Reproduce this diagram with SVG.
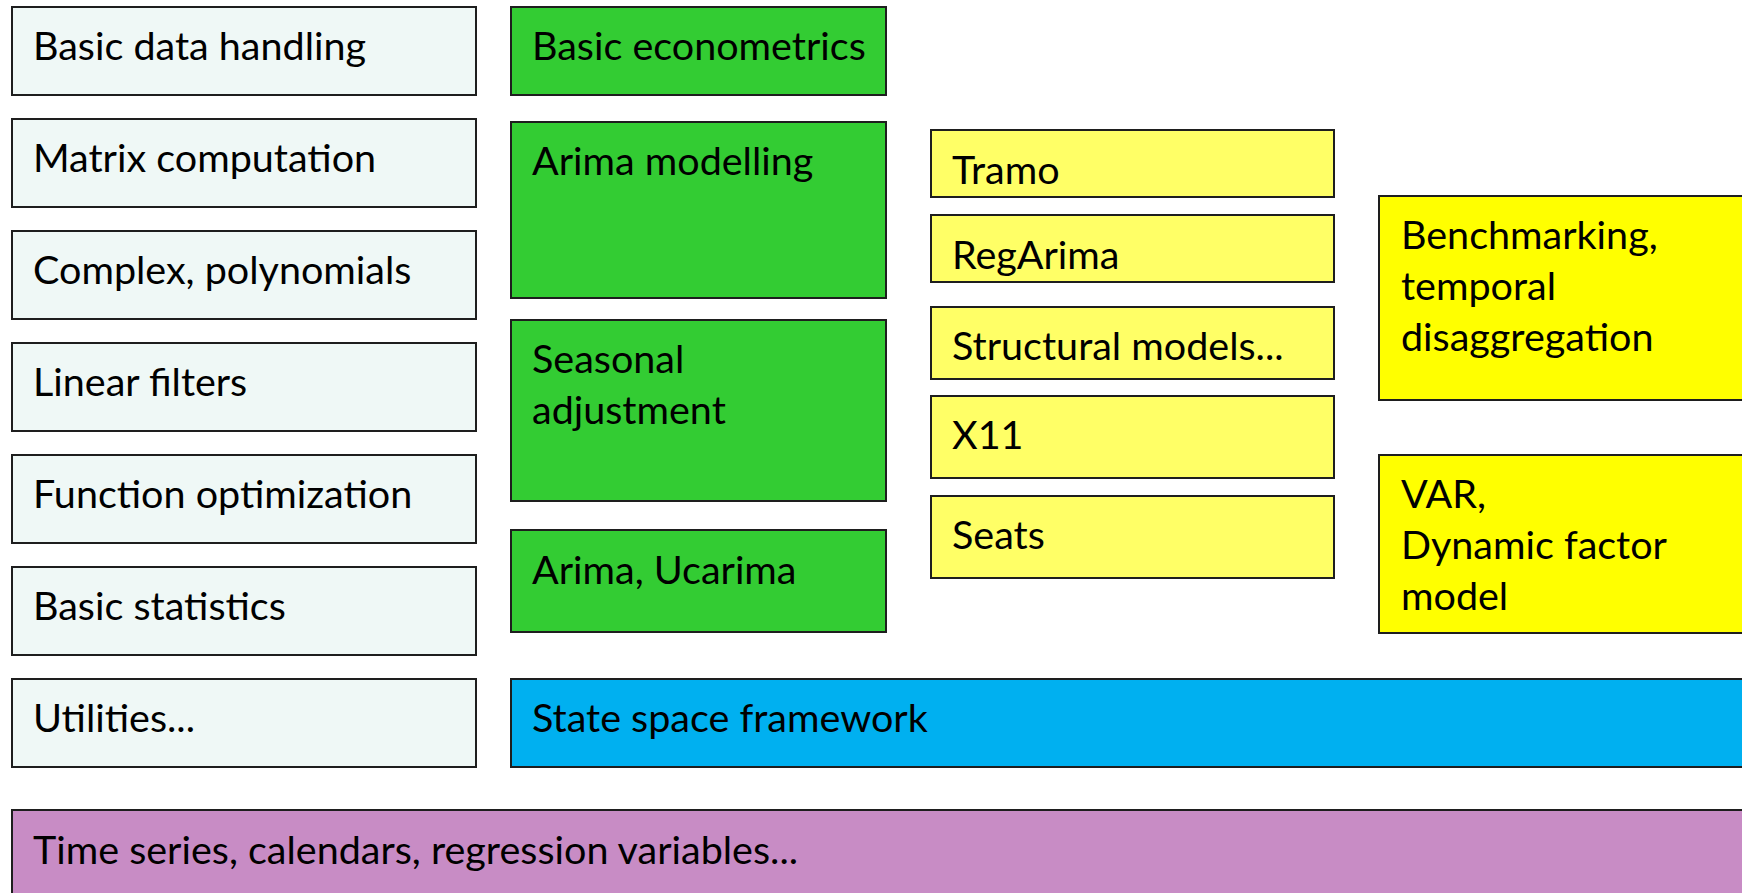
<svg xmlns="http://www.w3.org/2000/svg" width="1742" height="893" viewBox="0 0 1742 893">
<style>
rect{stroke:#1e1e1e;stroke-width:2}
.l{fill:#EFF8F6}.g{fill:#33CC33}.y{fill:#FFFF66}.Y{fill:#FFFF00}.b{fill:#00B0F0}.p{fill:#C88CC5}
text{font-family:Lato,"Liberation Sans",sans-serif;font-size:39.5px;fill:#000}
</style>
<rect x="0" y="0" width="1742" height="893" fill="#fff" style="stroke:none"/>
<g id="n-basic-data"><rect class="l" x="12" y="7" width="464" height="88"/><text x="33" y="60">Basic data handling</text></g>
<g id="n-matrix"><rect class="l" x="12" y="119" width="464" height="88"/><text x="33" y="172">Matrix computation</text></g>
<g id="n-complex"><rect class="l" x="12" y="231" width="464" height="88"/><text x="33" y="284">Complex, polynomials</text></g>
<g id="n-filters"><rect class="l" x="12" y="343" width="464" height="88"/><text x="33" y="396">Linear filters</text></g>
<g id="n-optim"><rect class="l" x="12" y="455" width="464" height="88"/><text x="33" y="508">Function optimization</text></g>
<g id="n-stats"><rect class="l" x="12" y="567" width="464" height="88"/><text x="33" y="620">Basic statistics</text></g>
<g id="n-utils"><rect class="l" x="12" y="679" width="464" height="88"/><text x="33" y="732">Utilities...</text></g>
<g id="n-econ"><rect class="g" x="511" y="7" width="375" height="88"/><text x="532" y="60">Basic econometrics</text></g>
<g id="n-arima-mod"><rect class="g" x="511" y="122" width="375" height="176"/><text x="532" y="175">Arima modelling</text></g>
<g id="n-sa"><rect class="g" x="511" y="320" width="375" height="181"/><text x="532" y="373">Seasonal</text><text x="532" y="424">adjustment</text></g>
<g id="n-ucarima"><rect class="g" x="511" y="530" width="375" height="102"/><text x="532" y="584">Arima, Ucarima</text></g>
<g id="n-tramo"><rect class="y" x="931" y="130" width="403" height="67"/><text x="952" y="184">Tramo</text></g>
<g id="n-regarima"><rect class="y" x="931" y="215" width="403" height="67"/><text x="952" y="269">RegArima</text></g>
<g id="n-struct"><rect class="y" x="931" y="307" width="403" height="72"/><text x="952" y="360">Structural models...</text></g>
<g id="n-x11"><rect class="y" x="931" y="396" width="403" height="82"/><text x="952" y="449">X11</text></g>
<g id="n-seats"><rect class="y" x="931" y="496" width="403" height="82"/><text x="952" y="549">Seats</text></g>
<g id="n-bench"><rect class="Y" x="1379" y="196" width="380" height="204"/><text x="1401" y="249">Benchmarking,</text><text x="1401" y="300">temporal</text><text x="1401" y="351">disaggregation</text></g>
<g id="n-var"><rect class="Y" x="1379" y="455" width="380" height="178"/><text x="1401" y="508">VAR,</text><text x="1401" y="559">Dynamic factor</text><text x="1401" y="610">model</text></g>
<g id="n-ssf"><rect class="b" x="511" y="679" width="1250" height="88"/><text x="532" y="732">State space framework</text></g>
<g id="n-ts"><rect class="p" x="12" y="810" width="1750" height="100"/><text x="33" y="864">Time series, calendars, regression variables...</text></g>
<g id="connectors"></g>
</svg>
